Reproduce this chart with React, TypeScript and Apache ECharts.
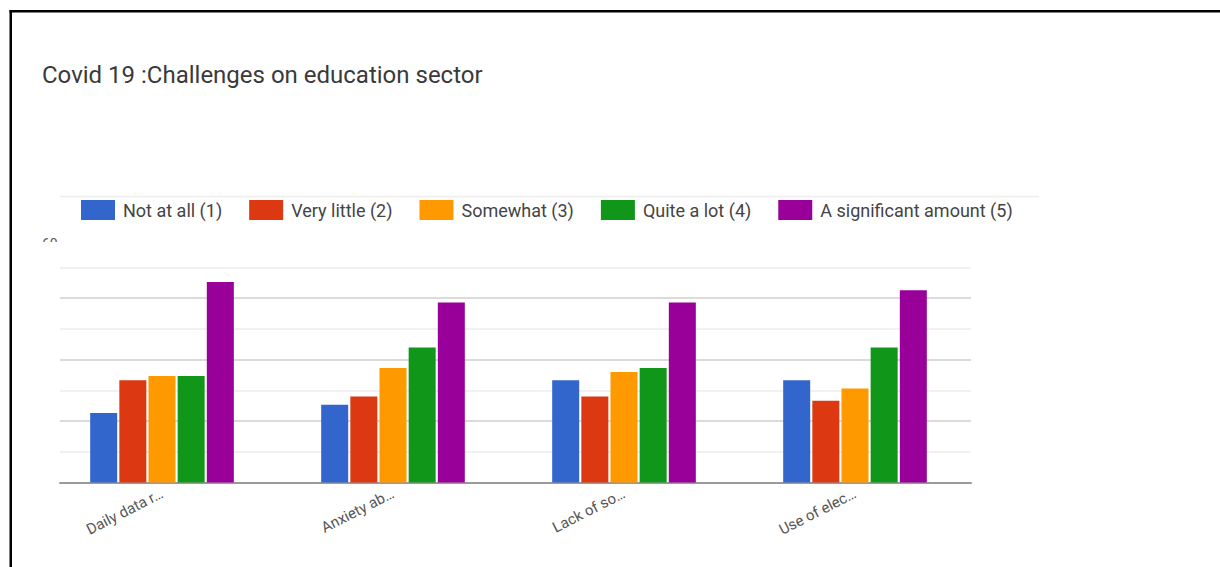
import React, { useEffect, useRef } from "react";
import * as echarts from "echarts";

// Survey: how much each issue was felt, counts per answer level
const categories = ["Daily data r…", "Anxiety ab…", "Lack of so…", "Use of elec…"];
const seriesNames = [
  "Not at all (1)",
  "Very little (2)",
  "Somewhat (3)",
  "Quite a lot (4)",
  "A significant amount (5)",
];
const notAtAll = [17, 19, 25, 25];
const veryLittle = [25, 21, 21, 20];
const somewhat = [26, 28, 27, 23];
const quiteALot = [26, 33, 28, 33];
const significant = [49, 44, 44, 47];
const seriesValues = [notAtAll, veryLittle, somewhat, quiteALot, significant];
const seriesColors = ["#3366cc", "#dc3912", "#ff9900", "#109618", "#990099"];

const yMax = 60;
const yStep = 7.5;
const topTickLabel = "60";

export default function App() {
  const ref = useRef<HTMLDivElement>(null);

  useEffect(() => {
    if (!ref.current) return;
    const chart = echarts.init(ref.current, null, { renderer: "svg" });
    const font = "Roboto, 'Noto Sans', sans-serif";

    chart.setOption({
      animation: false,
      backgroundColor: "#ffffff",
      title: {
        text: "Covid 19 :Challenges on education sector",
        left: 37,
        top: 58,
        textStyle: { fontFamily: font, fontSize: 24, fontWeight: "normal", color: "#3a3a3a" },
      },
      legend: {
        data: seriesNames,
        left: 81,
        top: 200,
        padding: 0,
        icon: "rect",
        itemWidth: 34,
        itemHeight: 20,
        itemGap: 27,
        textStyle: { fontFamily: font, fontSize: 18, color: "#444", padding: [0, 0, 0, 3] },
      },
      grid: [
        // gridlines and baseline
        { left: 60, right: 249, top: 267.5, bottom: 84.5 },
        // bars
        { left: 46.5, right: 249.5, top: 237, bottom: 84.5 },
      ],
      xAxis: [
        {
          type: "category",
          gridIndex: 0,
          data: categories,
          axisLine: { show: true, lineStyle: { color: "#9a9a9a", width: 2 } },
          axisTick: { show: false },
          axisLabel: { show: false },
          splitLine: { show: false },
        },
        {
          type: "category",
          gridIndex: 1,
          data: categories,
          axisLine: { show: false },
          axisTick: { show: false },
          axisLabel: {
            rotate: 27,
            margin: 10,
            fontFamily: font,
            fontSize: 15,
            color: "#555",
          },
        },
      ],
      yAxis: [
        {
          type: "value",
          gridIndex: 0,
          min: 0,
          max: yMax - yStep,
          interval: yStep,
          axisLabel: { show: false },
          axisLine: { show: false },
          axisTick: { show: false },
          splitLine: { show: true, lineStyle: { color: ["#cfcfcf", "#ececec"], width: 1.5 } },
        },
        {
          type: "value",
          gridIndex: 1,
          min: 0,
          max: yMax,
          show: false,
          splitLine: { show: false },
        },
      ],
      series: seriesNames.map((name, i) => ({
        name,
        type: "bar",
        xAxisIndex: 1,
        yAxisIndex: 1,
        data: seriesValues[i],
        barWidth: 27,
        barGap: "8%",
        itemStyle: { color: seriesColors[i] },
      })),
      graphic: [
        { type: "rect", shape: { x: 9.5, y: 10, width: 1210.5, height: 2.5 }, style: { fill: "#000" } },
        { type: "rect", shape: { x: 9.5, y: 10, width: 2.5, height: 557 }, style: { fill: "#000" } },
        {
          type: "line",
          shape: { x1: 60, y1: 196.5, x2: 1039, y2: 196.5 },
          style: { stroke: "#ededed", lineWidth: 1.5 },
        },
        {
          type: "text",
          x: 42,
          y: 237,
          style: { text: topTickLabel, fontFamily: font, fontSize: 14, fill: "#555" },
        },
        { type: "rect", shape: { x: 30, y: 242, width: 29, height: 14 }, style: { fill: "#fff" } },
      ],
    });

    return () => chart.dispose();
  }, []);

  return (
    <div
      ref={ref}
      style={{ position: "fixed", left: 0, top: 0, width: 1220, height: 567, background: "#fff" }}
    />
  );
}
